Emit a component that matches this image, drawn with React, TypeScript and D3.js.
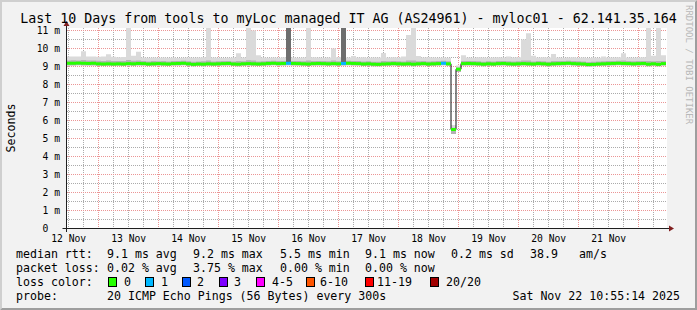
import React, { useEffect } from 'react';
import * as d3 from 'd3';

const W = 697;
const H = 310;
const START = Date.UTC(2025, 10, 12, 10, 55, 14);
const END = Date.UTC(2025, 10, 22, 10, 55, 14);
const BUCKET_MS = 2 * 3600 * 1000;

// median rtt (ms) per 2-hour bucket
const median = [
  9.18, 9.18, 9.19, 9.18, 9.17, 9.18, 9.15, 9.14, 9.15, 9.14,
  9.15, 9.14, 9.16, 9.15, 9.17, 9.16, 9.14, 9.15, 9.16, 9.15,
  9.14, 9.16, 9.17, 9.18, 9.15, 9.12, 9.14, 9.13, 9.15, 9.14,
  9.15, 9.16, 9.17, 9.14, 9.13, 9.15, 9.16, 9.15, 9.14, 9.15,
  9.17, 9.18, 9.16, 9.17, 9.18, 9.17, 9.16, 9.15, 9.14, 9.16,
  9.17, 9.16, 9.15, 9.16, 9.15, 9.17, 9.18, 9.17, 9.16, 9.14,
  9.15, 9.13, 9.12, 9.14, 9.15, 9.16, 9.15, 9.14, 9.15, 9.13,
  9.15, 9.16, 9.14, 9.15, 9.16, 9.18, 9.15, 5.5, 8.85, 9.16,
  9.17, 9.16, 9.15, 9.13, 9.15, 9.14, 9.16, 9.17, 9.15, 9.14,
  9.15, 9.16, 9.15, 9.14, 9.16, 9.15, 9.13, 9.15, 9.16, 9.17,
  9.18, 9.16, 9.15, 9.14, 9.11, 9.12, 9.14, 9.15, 9.16, 9.17,
  9.18, 9.17, 9.16, 9.15, 9.16, 9.17, 9.13, 9.15, 9.12, 9.16,
];

// highest ping per bucket (outer smoke top)
const pingMax = [
  9.55, 9.56, 9.55, 9.85, 9.56, 9.55, 9.54, 9.55, 9.68, 9.54,
  9.52, 9.53, 11.2, 9.6, 9.82, 9.5, 9.48, 9.5, 9.49, 9.5,
  9.48, 9.5, 9.47, 9.49, 9.5, 9.48, 9.5, 9.52, 11.2, 9.5,
  9.49, 9.47, 9.48, 9.5, 9.73, 9.5, 11.2, 11.0, 9.62, 9.5,
  9.49, 9.5, 9.48, 9.52, 11.2, 9.5, 9.49, 9.5, 11.2, 9.52,
  9.5, 9.48, 9.5, 10.0, 9.52, 11.2, 9.5, 9.58, 9.5, 9.52,
  9.49, 9.5, 9.5, 9.75, 9.5, 9.52, 9.5, 9.55, 10.75, 11.2,
  9.58, 9.5, 9.52, 9.5, 9.48, 9.5, 9.48, 5.75, 9.05, 9.62,
  9.5, 9.49, 9.52, 9.5, 9.48, 9.5, 9.52, 9.5, 9.55, 9.5,
  9.52, 10.5, 10.85, 9.6, 9.5, 9.52, 9.5, 9.7, 9.5, 9.48,
  9.5, 9.52, 9.48, 9.5, 9.47, 9.5, 9.49, 9.55, 9.5, 9.5,
  9.52, 9.73, 9.5, 9.48, 9.5, 9.52, 11.2, 9.6, 11.2, 9.62,
];

// upper inner quantile per bucket (denser smoke top)
const pingHi = [
  9.34, 9.35, 9.34, 9.36, 9.33, 9.34, 9.32, 9.3, 9.33, 9.31,
  9.3, 9.31, 9.36, 9.32, 9.34, 9.3, 9.28, 9.3, 9.29, 9.3,
  9.28, 9.3, 9.31, 9.32, 9.29, 9.27, 9.28, 9.29, 9.34, 9.28,
  9.29, 9.3, 9.31, 9.28, 9.3, 9.29, 9.35, 9.33, 9.28, 9.29,
  9.3, 9.32, 9.3, 9.31, 9.32, 9.31, 9.3, 9.29, 9.33, 9.3,
  9.31, 9.3, 9.29, 9.33, 9.29, 9.32, 9.32, 9.31, 9.3, 9.28,
  9.29, 9.27, 9.26, 9.3, 9.29, 9.3, 9.29, 9.28, 9.33, 9.34,
  9.29, 9.3, 9.28, 9.29, 9.3, 9.32, 9.29, 5.6, 8.95, 9.3,
  9.31, 9.3, 9.29, 9.27, 9.29, 9.28, 9.3, 9.31, 9.29, 9.28,
  9.29, 9.33, 9.34, 9.28, 9.3, 9.29, 9.27, 9.3, 9.3, 9.31,
  9.32, 9.3, 9.29, 9.28, 9.25, 9.26, 9.28, 9.29, 9.3, 9.31,
  9.32, 9.33, 9.3, 9.29, 9.3, 9.31, 9.3, 9.29, 9.3, 9.3,
];

// lowest ping per bucket (smoke bottom)
const pingMin = [
  9.06, 9.06, 9.07, 9.06, 9.05, 9.06, 9.04, 9.03, 9.04, 9.03,
  9.04, 9.03, 9.05, 9.04, 9.06, 9.05, 9.03, 9.04, 9.05, 9.04,
  9.03, 9.05, 9.06, 9.07, 9.04, 9.01, 9.03, 9.02, 9.04, 9.03,
  9.04, 9.05, 9.06, 9.03, 9.02, 9.04, 9.05, 9.04, 9.03, 9.04,
  9.06, 9.07, 9.05, 9.06, 9.07, 9.06, 9.05, 9.04, 9.03, 9.05,
  9.06, 9.05, 9.04, 9.05, 9.04, 9.06, 9.07, 9.06, 9.05, 9.03,
  9.04, 9.02, 9.01, 9.03, 9.04, 9.05, 9.04, 9.03, 9.04, 9.02,
  9.04, 9.05, 9.03, 9.04, 9.05, 9.07, 9.04, 5.25, 8.7, 9.05,
  9.06, 9.05, 9.04, 9.02, 9.04, 9.03, 9.05, 9.06, 9.04, 9.03,
  9.04, 9.05, 9.04, 9.03, 9.05, 9.04, 9.02, 9.04, 9.05, 9.06,
  9.07, 9.05, 9.04, 9.03, 9.0, 9.01, 9.03, 9.04, 9.05, 9.06,
  9.07, 9.06, 9.05, 9.04, 9.05, 9.06, 9.02, 9.04, 9.01, 9.05,
];

// buckets with packet loss and the number of lost pings
const lossBuckets = [44, 55, 75];
const lossCounts = [1, 1, 1];

// buckets where the dense smoke reaches the top
const darkBuckets = [44, 55];
const darkTop = [11.2, 11.2];

const yMajor = [1, 2, 3, 4, 5, 6, 7, 8, 9, 10, 11];
const yMinor = [0.5, 1.5, 2.5, 3.5, 4.5, 5.5, 6.5, 7.5, 8.5, 9.5, 10.5];

const lossLabels = ['0', '1', '2', '3', '4-5', '6-10', '11-19', '20/20'];
const lossColors = ['#26ff00', '#00b8ff', '#0059ff', '#7e00ff', '#ff00ff', '#ff5500', '#ff0000', '#a10000'];
const lossUpper = [0, 1, 2, 3, 5, 10, 19, 20];

const medianStats = ['9.1 ms avg', '9.2 ms max', '5.5 ms min', '9.1 ms now', '0.2 ms sd', '38.9', 'am/s'];
const lossStats = ['0.02 % avg', '3.75 % max', '0.00 % min', '0.00 % now'];

const TITLE = 'Last 10 Days from tools to myLoc managed IT AG (AS24961) - myloc01 - 62.141.35.164';
const PROBE = '20 ICMP Echo Pings (56 Bytes) every 300s';
const STAMP = 'Sat Nov 22 10:55:14 2025';

const FONT = "'DejaVu Sans Mono', monospace";

export default function App() {
  useEffect(() => {
    document.body.style.margin = '0';
  }, []);

  const xs = d3.scaleUtc().domain([new Date(START), new Date(END)]).range([66, 666]);
  const ys = d3.scaleLinear().domain([0, 200 / 18]).range([228.5, 28.5]);

  const times = median.map((_, i) => new Date(START + i * BUCKET_MS));
  const idx = median.map((_, i) => i).concat([median.length - 1]);
  const tAt = (k: number, j: number) => (j < median.length ? times[k] : new Date(START + median.length * BUCKET_MS));

  const pts = idx.map((k, j) => ({ t: tAt(k, j), k }));

  const areaOuter = d3
    .area<{ t: Date; k: number }>()
    .x((d) => xs(d.t))
    .y0((d) => ys(pingMin[d.k]))
    .y1((d) => ys(pingMax[d.k]))
    .curve(d3.curveStepAfter);
  const areaInner = d3
    .area<{ t: Date; k: number }>()
    .x((d) => xs(d.t))
    .y0((d) => ys(pingMin[d.k]))
    .y1((d) => ys(pingHi[d.k]))
    .curve(d3.curveStepAfter);
  const medLine = d3
    .line<{ t: Date; k: number }>()
    .x((d) => xs(d.t))
    .y((d) => ys(median[d.k]))
    .curve(d3.curveStepAfter);

  const lossColorFor = (n: number) => {
    const j = lossUpper.findIndex((u) => n <= u);
    return lossColors[j < 0 ? lossColors.length - 1 : j];
  };
  const lossOf = (i: number) => {
    const j = lossBuckets.indexOf(i);
    return j < 0 ? 0 : lossCounts[j];
  };

  const crisp = (v: number) => Math.floor(v) + 0.5;

  const dayTicks = d3.utcDay.range(new Date(START), new Date(END));
  const hourTicks = d3.utcHour
    .every(6)!
    .range(new Date(START), new Date(END))
    .filter((d) => d.getUTCHours() !== 0);
  const labelDays = d3.utcDay
    .range(d3.utcDay.floor(new Date(START)), new Date(END))
    .map((d) => new Date(d.getTime() + 12 * 3600 * 1000))
    .filter((d) => d.getTime() < END);
  const fmt = d3.utcFormat('%d %b');

  const minorGrid = '#ababab';
  const majorGrid = '#eb9595';

  const legendBoxX = [108.5, 145.5, 182.5, 219.5, 256.5, 306.5, 365.5, 430.5];
  const legendTextX = [124, 161, 197, 234, 272, 320, 377, 446];
  const statX = [107, 193, 280, 365, 451, 530, 579];

  return (
    <svg
      width={W}
      height={H}
      viewBox={`0 0 ${W} ${H}`}
      style={{ position: 'absolute', left: 0, top: 0, display: 'block' }}
      fontFamily={FONT}
    >
      <defs>
        <clipPath id="canvasClip">
          <rect x={66} y={28} width={601} height={201} />
        </clipPath>
      </defs>
      <rect x={0} y={0} width={W} height={H} fill="#f2f2f2" />
      <polygon points={`0,0 ${W},0 ${W - 2},2 2,2 2,${H - 2} 0,${H}`} fill="#cfcfcf" />
      <polygon points={`${W},0 ${W},${H} 0,${H} 2,${H - 2} ${W - 2},${H - 2} ${W - 2},2`} fill="#9e9e9e" />

      <rect x={66} y={28} width={601} height={201} fill="#ffffff" />

      {/* grid */}
      <g strokeWidth={1} strokeDasharray="1,1" fill="none">
        {hourTicks.map((d, i) => {
          const x = crisp(xs(d));
          if (x < 68) return null;
          return <line key={`hm${i}`} x1={x} x2={x} y1={28} y2={228} stroke={minorGrid} />;
        })}
        {yMinor.map((v, i) => (
          <line key={`vm${i}`} x1={67} x2={667} y1={crisp(ys(v))} y2={crisp(ys(v))} stroke={minorGrid} />
        ))}
        {dayTicks.map((d, i) => {
          const x = crisp(xs(d));
          return <line key={`dM${i}`} x1={x} x2={x} y1={28} y2={228} stroke={majorGrid} />;
        })}
        {yMajor.map((v, i) => (
          <line key={`vM${i}`} x1={67} x2={667} y1={crisp(ys(v))} y2={crisp(ys(v))} stroke={majorGrid} />
        ))}
      </g>

      {/* smoke */}
      <g clipPath="url(#canvasClip)">
        <path d={areaOuter(pts) || ''} fill="#dadada" />
        <path d={areaInner(pts) || ''} fill="#b3b3b3" />
        {darkBuckets.map((b, i) => (
          <rect
            key={`db${i}`}
            x={xs(times[b])}
            width={xs(new Date(times[b].getTime() + BUCKET_MS)) - xs(times[b])}
            y={ys(darkTop[i])}
            height={ys(median[b]) - ys(darkTop[i])}
            fill="#6e6e6e"
          />
        ))}
        <path d={medLine(pts) || ''} fill="none" stroke="#111111" strokeWidth={1} />
        {median.map((m, i) => {
          const x1 = xs(times[i]);
          const x2 = xs(new Date(times[i].getTime() + BUCKET_MS));
          return (
            <line
              key={`md${i}`}
              x1={x1}
              x2={x2}
              y1={ys(m)}
              y2={ys(m)}
              stroke={lossColorFor(lossOf(i))}
              strokeWidth={3}
            />
          );
        })}
      </g>

      {/* axes */}
      <line x1={62.5} x2={670} y1={228.5} y2={228.5} stroke="#1f1f1f" strokeWidth={1} />
      <line x1={66.5} x2={66.5} y1={232} y2={25} stroke="#1f1f1f" strokeWidth={1} />
      <polygon points="669,225.5 669,231.5 674,228.5" fill="#801f1f" />
      <polygon points="63.5,26 69.5,26 66.5,21" fill="#801f1f" />

      {/* y labels */}
      <g fontSize={9.7} fill="#000">
        {yMajor.map((v) => (
          <text key={`yl${v}`} x={60} y={ys(v) + 3.5} textAnchor="end">
            {`${v} m`}
          </text>
        ))}
        <text x={48.3} y={ys(0) + 3.5} textAnchor="end">
          0
        </text>
        {labelDays.map((d, i) => (
          <text key={`xl${i}`} x={xs(d)} y={241.5} textAnchor="middle">
            {fmt(d)}
          </text>
        ))}
      </g>

      {/* title */}
      <text x={348.5} y={23} textAnchor="middle" fontSize={13.3} fill="#000">
        {TITLE}
      </text>

      {/* vertical labels */}
      <text
        transform="translate(15,128) rotate(-90)"
        textAnchor="middle"
        fontSize={11.6}
        fill="#000"
      >
        Seconds
      </text>
      <text transform="translate(685.5,5) rotate(90)" fontSize={9} fill="#b8b8b8">
        RRDTOOL / TOBI OETIKER
      </text>

      {/* legend */}
      <g fontSize={11.6} fill="#000">
        <text x={16} y={257.5}>median rtt:</text>
        {medianStats.map((s, i) => (
          <text key={`ms${i}`} x={statX[i]} y={257.5}>
            {s}
          </text>
        ))}
        <text x={16} y={271.7}>packet loss:</text>
        {lossStats.map((s, i) => (
          <text key={`ls${i}`} x={statX[i]} y={271.7}>
            {s}
          </text>
        ))}
        <text x={16} y={285.9}>loss color:</text>
        {lossLabels.map((l, i) => (
          <g key={`lc${i}`}>
            <rect x={legendBoxX[i]} y={277.5} width={8} height={9} fill={lossColors[i]} stroke="#000" strokeWidth={1} />
            <text x={legendTextX[i]} y={285.9}>
              {l}
            </text>
          </g>
        ))}
        <text x={16} y={300}>probe:</text>
        <text x={107} y={300}>{PROBE}</text>
        <text x={680} y={300} textAnchor="end">
          {STAMP}
        </text>
      </g>
    </svg>
  );
}
